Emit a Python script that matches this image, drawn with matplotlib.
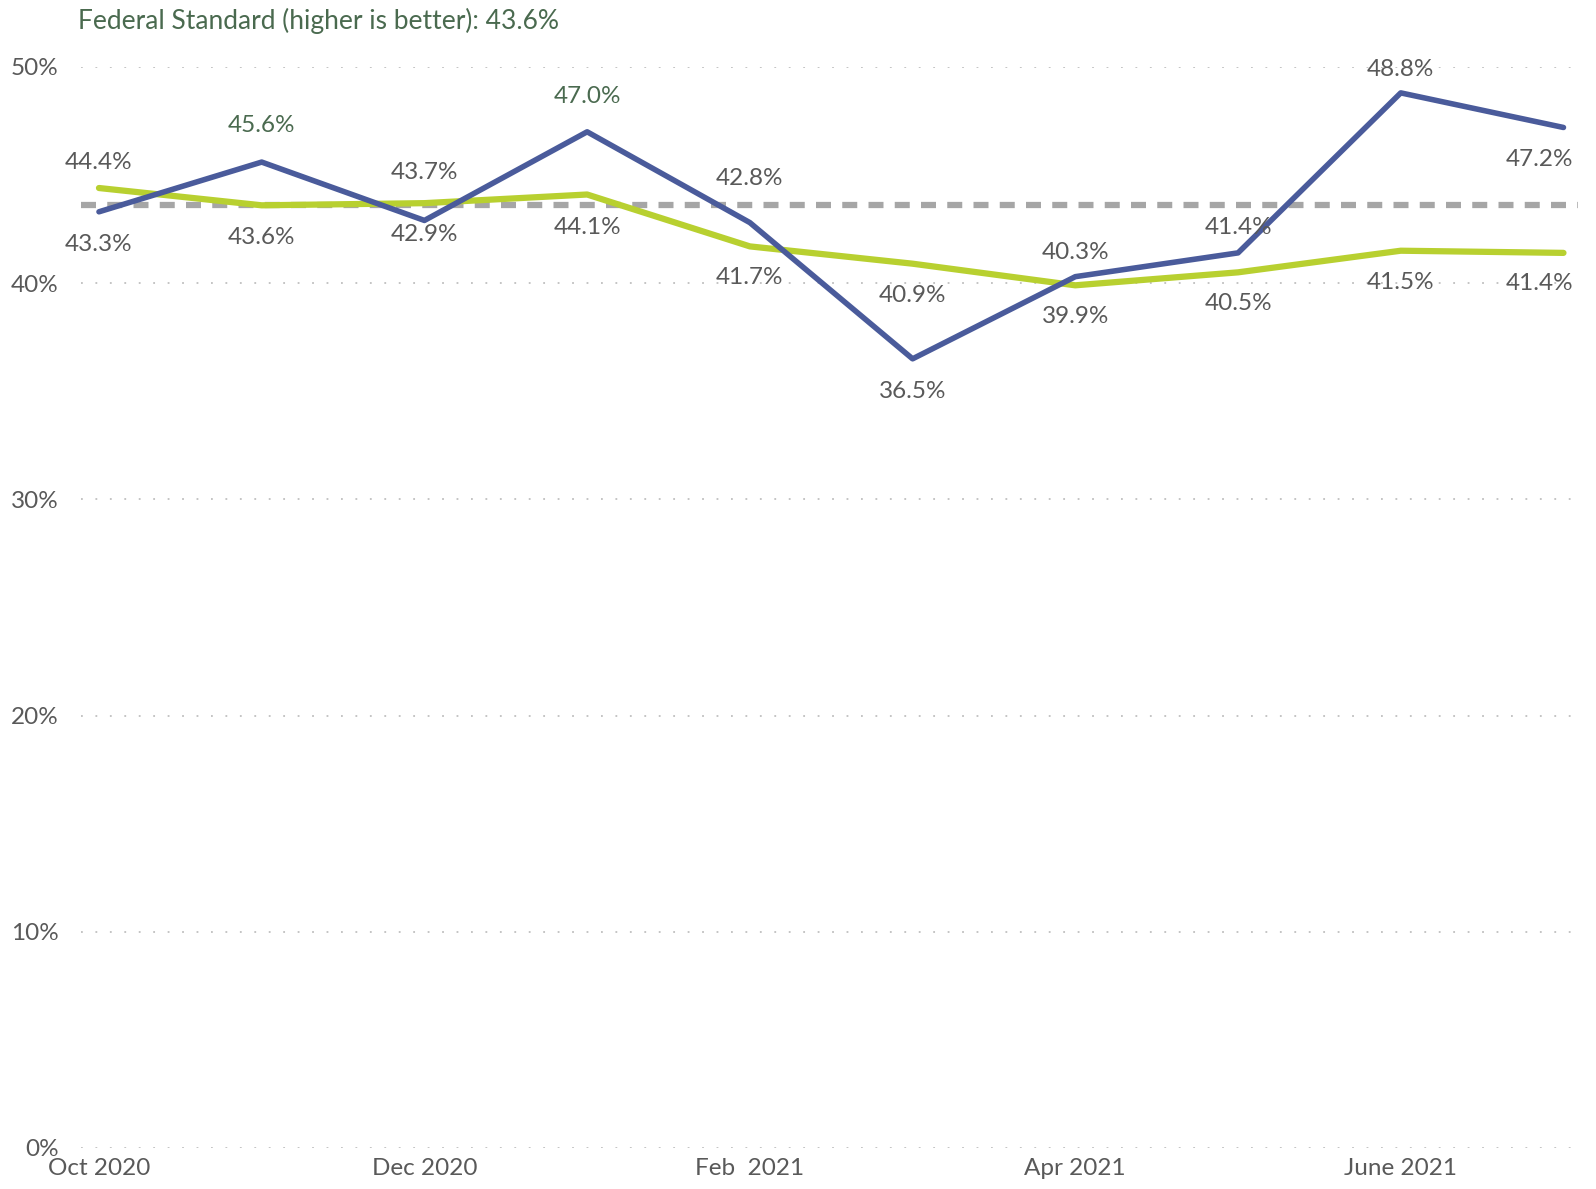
import matplotlib.pyplot as plt
import numpy as np

plt.rcParams['font.family'] = ['Lato', 'DejaVu Sans']

# data
months = ["Oct 2020", "Nov 2020", "Dec 2020", "Jan 2021", "Feb  2021",
          "Mar 2021", "Apr 2021", "May 2021", "June 2021", "July 2021"]
blue_vals = [43.3, 45.6, 42.9, 47.0, 42.8, 36.5, 40.3, 41.4, 48.8, 47.2]
green_vals = [44.4, 43.6, 43.7, 44.1, 41.7, 40.9, 39.9, 40.5, 41.5, 41.4]
standard = 43.6
# label offsets in pixels (positive = above the point)
blue_off = [-32, 36, -14, 35, 43, -32, 24, 25, 23, -31]
green_off = [25, -32, 30, -32, -31, -31, -31, -31, -31, -30]
label_dx = [0, 0, 0, 0, 0, 0, 0, 0, 0, -24]
# labels shown in green text
green_text_blue = [False, True, False, True, False, False, False, False, False, False]

blue = '#4a5b9b'
lime = '#b8d030'
gray_txt = '#595959'
green_txt = '#4a6a4f'

fig = plt.figure(figsize=(15.96, 11.89), dpi=100)
ax = fig.add_axes([0.0508, 0.0345, 0.938, 0.9092])

x = np.arange(len(months))

for yv in [0, 10, 20, 30, 40, 50]:
    ax.axhline(yv, color='#bfbfbf', lw=1.3, ls=(0, (1, 7)), zorder=1)

ax.axhline(standard, color='#a6a6a6', lw=4.5, ls=(0, (2.4, 1.8)), zorder=2)

ax.plot(x, green_vals, color=lime, lw=4.5, zorder=3, solid_capstyle='round',
        solid_joinstyle='round', clip_on=False)
ax.plot(x, blue_vals, color=blue, lw=4, zorder=4, solid_capstyle='round',
        solid_joinstyle='round', clip_on=False)

for i in x:
    c = green_txt if green_text_blue[i] else gray_txt
    ax.annotate(f"{blue_vals[i]:.1f}%", (i, blue_vals[i]),
                xytext=(label_dx[i], blue_off[i] * 1.018),
                textcoords='offset pixels', ha='center', va='center', fontsize=17.5, color=c, zorder=5)
    ax.annotate(f"{green_vals[i]:.1f}%", (i, green_vals[i]),
                xytext=(label_dx[i], green_off[i] * 1.018),
                textcoords='offset pixels', ha='center', va='center', fontsize=17.5, color=gray_txt, zorder=5)

ax.set_xlim(-0.11, 9.09)
ax.set_ylim(0, 50)
ax.set_yticks([0, 10, 20, 30, 40, 50])
ax.set_yticklabels([f"{v}%" for v in [0, 10, 20, 30, 40, 50]])
ax.set_xticks(x[::2])
ax.set_xticklabels(months[::2])
ax.tick_params(length=0, labelsize=17.5, colors=gray_txt)
ax.tick_params(axis='x', pad=7)
ax.tick_params(axis='y', pad=16)
for s in ax.spines.values():
    s.set_visible(False)

fig.text(0.049, 0.982, "Federal Standard (higher is better): 43.6%", color=green_txt,
         fontsize=19, ha='left', va='center')

fig.savefig('out.png', dpi=100)
